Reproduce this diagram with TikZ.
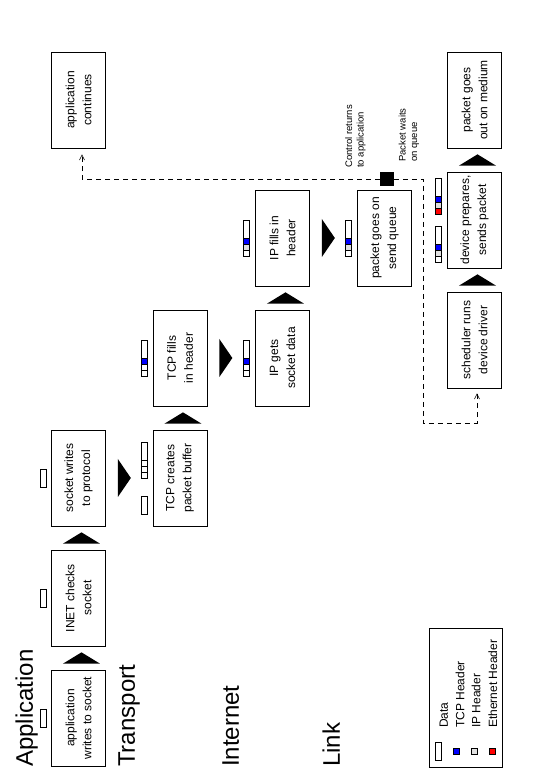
\documentclass[tikz,border=0pt]{standalone}
\usepackage{fontspec}
\setmainfont{Liberation Sans}
\usetikzlibrary{arrows.meta,calc}
\definecolor{tcpblue}{RGB}{0,0,255}
\definecolor{ipgray}{RGB}{224,224,224}
\definecolor{ethred}{RGB}{255,0,0}

\begin{document}
\begin{tikzpicture}[x=1pt, y=1pt,
        stage/.style={draw, line width=.7pt, minimum width=96pt, minimum height=54pt, inner sep=0pt, align=center, font=\fontsize{12}{17}\selectfont},
        layer/.style={anchor=base west, inner sep=0pt, font=\fontsize{24}{28}\selectfont},
        note/.style={anchor=west, inner sep=0pt, align=left, font=\fontsize{9.5}{11.5}\selectfont},
        key/.style={anchor=base west, inner sep=0pt, font=\fontsize{12}{14}\selectfont},
        slot/.style={draw, line width=.6pt},
        flow/.style={line width=.6pt, dash pattern=on 5pt off 4pt, -{Straight Barb[length=5pt,width=5pt]}},
        pics/data/.style={code={\path[slot, fill=white] (-9,-3) rectangle (9,3);}},
        pics/pkt/.style n args={3}{code={
            \path[slot, fill=#1] (-18,-3) rectangle (-12,3);
            \path[slot, fill=#2] (-12,-3) rectangle (-6,3);
            \path[slot, fill=#3] (-6,-3) rectangle (0,3);
            \path[slot, fill=white] (0,-3) rectangle (18,3);}}]
    \begin{scope}[rotate=90, transform shape]
        \useasboundingbox (0,0) rectangle (784,538);
        \node[layer] (app) at (17,505) {Application};
        \node[layer] (trans) at (17,403) {Transport};
        \node[layer] (inet) at (17,299) {Internet};
        \node[layer] (link) at (17,198) {Link};
        \node[stage] (b1) at (66,459.5) {application\\writes to socket};
        \node[stage] (b2) at (186,459.5) {INET checks\\socket};
        \node[stage] (b3) at (306,459.5) {socket writes\\to protocol};
        \node[stage] (b4) at (306,358) {TCP creates\\packet buffer};
        \node[stage] (b5) at (426,358) {TCP fills\\in header};
        \node[stage] (b6) at (426,255.5) {IP gets\\socket data};
        \node[stage] (b7) at (546,255.5) {IP fills in\\header};
        \node[stage] (b8) at (546,153.5) {packet goes on\\send queue};
        \node[stage] (b9) at (444,63.5) {scheduler runs\\device driver};
        \node[stage] (b10) at (564,63.5) {device prepares,\\sends packet};
        \node[stage] (b11) at (684,63.5) {packet goes\\out on medium};
        \node[stage] (b12) at (684,459.5) {application\\continues};
        \fill ($(b1.east)+(6,-21.5)$) -- ($(b1.east)+(6,15.5)$) -- ($(b2.west)+(-6,-3)$) -- cycle;
        \fill ($(b2.east)+(6,-21.5)$) -- ($(b2.east)+(6,15.5)$) -- ($(b3.west)+(-6,-3)$) -- cycle;
        \fill ($(b4.east)+(6,-21.5)$) -- ($(b4.east)+(6,15.5)$) -- ($(b5.west)+(-6,-3)$) -- cycle;
        \fill ($(b6.east)+(6,-21.5)$) -- ($(b6.east)+(6,15.5)$) -- ($(b7.west)+(-6,-3)$) -- cycle;
        \fill ($(b9.east)+(6,-21.5)$) -- ($(b9.east)+(6,15.5)$) -- ($(b10.west)+(-6,-3)$) -- cycle;
        \fill ($(b10.east)+(6,-21.5)$) -- ($(b10.east)+(6,15.5)$) -- ($(b11.west)+(-6,-3)$) -- cycle;
        \fill ($(b3.south)+(-19,-12)$) -- ($(b3.south)+(19,-12)$) -- ($(b3.south)+(0,-25)$) -- cycle;
        \fill ($(b5.south)+(-19,-12)$) -- ($(b5.south)+(19,-12)$) -- ($(b5.south)+(0,-25)$) -- cycle;
        \fill ($(b7.south)+(-19,-12)$) -- ($(b7.south)+(19,-12)$) -- ($(b7.south)+(0,-25)$) -- cycle;
        \pic at (66,495) {data};
        \pic at (186,495) {data};
        \pic at (306,495) {data};
        \pic at (279,394) {data};
        \pic at (324,394) {pkt={white}{white}{white}};
        \pic at (426,394) {pkt={white}{white}{tcpblue}};
        \pic at (426,291.5) {pkt={white}{white}{tcpblue}};
        \pic at (546,291.5) {pkt={white}{ipgray}{tcpblue}};
        \pic at (546,190) {pkt={white}{ipgray}{tcpblue}};
        \pic at (540,99.5) {pkt={white}{ipgray}{tcpblue}};
        \pic at (588,99.5) {pkt={ethred}{ipgray}{tcpblue}};
        \node[fill, minimum size=13.5pt, inner sep=0pt] (sq) at (605,151) {};
        \node[note] (ret) at (616,182.5) {Control returns\\to application};
        \node[note] (wait) at (622,129) {Packet waits\\on queue};
        \draw[flow] (sq.north) |- ($(b12.west)+(-6,-3.5)$);
        \draw[flow] (sq.south) |- (361,115) |- ($(b9.west)+(-5,-2.5)$);
        \draw[line width=.7pt] (17,36) rectangle (156,109);
        \pic at (32.5,99.5) {data};
        \path[slot, fill=tcpblue] (30,78.7) rectangle (36,84.7);
        \path[slot, fill=ipgray] (30,60.8) rectangle (36,66.8);
        \path[slot, fill=ethred] (30,42.7) rectangle (36,48.7);
        \node[key] (kdata) at (56,90) {Data};
        \node[key] (ktcp) at (56,73.5) {TCP Header};
        \node[key] (kip) at (56,57.5) {IP Header};
        \node[key] (keth) at (56,41) {Ethernet Header};
    \end{scope}
\end{tikzpicture}
\end{document}
